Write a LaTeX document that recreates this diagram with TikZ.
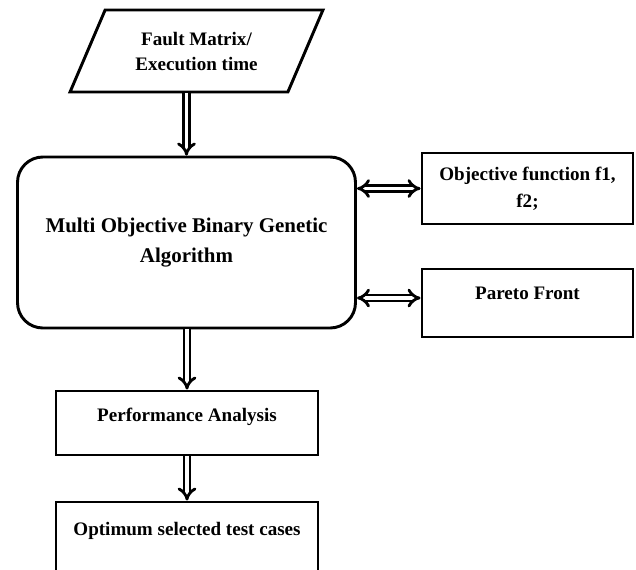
\documentclass[tikz,border=0pt]{standalone}
\usepackage{fontspec}
\setmainfont{Liberation Serif}
\usetikzlibrary{shapes.geometric, arrows.meta}

\tikzset{
  txt/.style={font=\bfseries\fontsize{14.3}{20}\selectfont, align=center},
  box/.style={txt, draw, line width=2.2pt, rectangle, inner sep=0pt},
  flow/.style={double, double distance=2.4pt, line width=2.1pt, -{Implies}},
  biflow/.style={flow, {Implies}-{Implies}}
}

\begin{document}
\begin{tikzpicture}[x=0.75pt, y=-0.75pt, line join=miter]
    \clip (0,0) rectangle (636,569);

    % Input data
    \node[txt, draw, line width=2.2pt, trapezium, trapezium stretches=true,
          trapezium left angle=58.6, trapezium right angle=121.4,
          minimum width=189.75pt, minimum height=61.5pt, inner sep=0pt,
          font=\bfseries\fontsize{14.3}{18.75}\selectfont]
          (input) at (196.5,51) {Fault Matrix/\\Execution time};

    % Main algorithm
    \node[txt, draw, line width=2.2pt, rounded corners=19pt,
          minimum width=253.5pt, minimum height=128.25pt, inner sep=0pt,
          font=\bfseries\fontsize{15.7}{22.5}\selectfont]
          (mga) at (186.5,242.5) {Multi Objective Binary Genetic\\Algorithm};

    % Side boxes
    \node[box, minimum width=158.25pt, minimum height=53.25pt]
          (obj) at (527.5,188.5) {Objective function f1,\\f2;};
    \node[box, minimum width=158.25pt, text height=22.5pt, text depth=28.5pt]
          (pareto) at (527.5,303) {Pareto Front};

    % Output boxes
    \node[box, minimum width=196.5pt, text height=22.5pt, text depth=25.5pt]
          (perf) at (187,423) {Performance Analysis};
    \node[box, minimum width=196.5pt, text height=24.75pt, text depth=48.75pt]
          (opt) at (187,551) {Optimum selected test cases};

    % Connectors
    \draw[flow] (input.south -| mga.north) -- (mga.north);
    \draw[biflow] (mga.east |- obj.west) -- (obj.west);
    \draw[biflow] ([yshift=3.75pt]mga.east |- pareto.west) -- ([yshift=3.75pt]pareto.west);
    \draw[flow] (mga.south -| perf.north) -- (perf.north);
    \draw[flow] (perf.south) -- (opt.north);
\end{tikzpicture}
\end{document}
